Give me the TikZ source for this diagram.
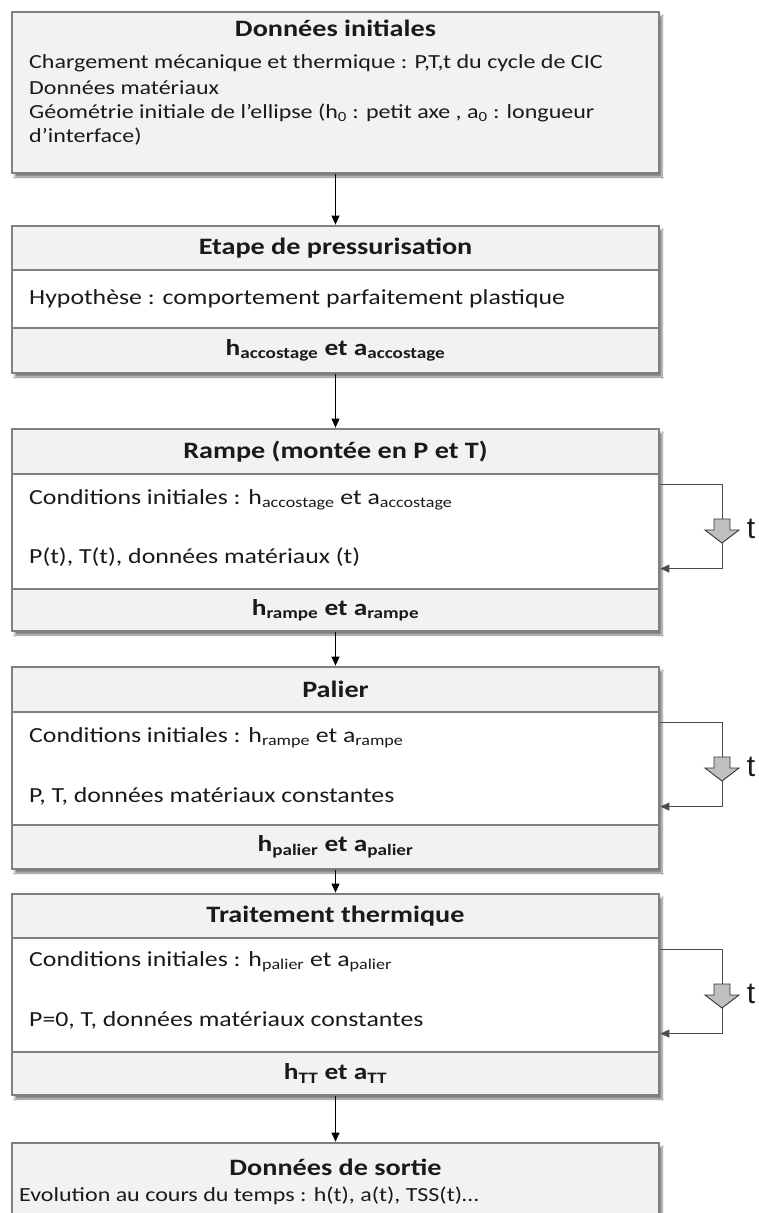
\documentclass[tikz,border=0pt]{standalone}
\usepackage{fontspec}
\setmainfont{Carlito}[FakeStretch=1.2]
\newfontfamily\tfont{Liberation Sans}
\usetikzlibrary{shadows.blur,arrows.meta}
\definecolor{boxgray}{HTML}{F2F2F2}
\definecolor{edgegray}{HTML}{808080}
\definecolor{arrowgray}{HTML}{BFBFBF}
\definecolor{txt}{HTML}{1A1A1A}
\tikzset{
  outerbox/.style={draw=edgegray, line width=2.8pt, fill=boxgray, minimum width=647pt, inner sep=0pt,
    blur shadow={shadow xshift=3pt, shadow yshift=-4pt, shadow blur steps=6, shadow opacity=50}},
  sect/.style={draw=edgegray, line width=2.8pt, minimum width=647pt, inner sep=0pt},
  secthead/.style={sect, fill=boxgray},
  sectbody/.style={sect, fill=white},
  boxtitle/.style={font=\fontsize{23.5}{27}\selectfont\bfseries, text=txt, inner sep=0pt},
  resulttext/.style={font=\fontsize{22.8}{26}\selectfont\bfseries, text=txt, inner sep=0pt},
  introtext/.style={font=\fontsize{20}{23}\selectfont, anchor=west, inner sep=0pt, text=txt},
  bodytext/.style={font=\fontsize{21.5}{25}\selectfont, anchor=west, inner sep=0pt, text=txt},
  conn/.style={-{Triangle[length=9pt,width=8pt]}, line width=0.9pt, draw=black},
  loopthin/.style={line width=0.9pt, draw=black!70},
  loopline/.style={-{Triangle[length=9pt,width=8pt]}, line width=0.9pt, draw=black!70},
  blockarrow/.style={fill=arrowgray, draw=black!80, line width=0.9pt, line join=miter},
  tlabel/.style={font=\tfont\fontsize{30}{34}\selectfont, text=txt, inner sep=0pt},
}
\begin{document}
\begin{tikzpicture}[x=1pt,y=-1pt]
\useasboundingbox (0,0) rectangle (759,1213);
\clip (0,0) rectangle (759,1213);
\fill[white] (0,0) rectangle (759,1213);

% ---------- Box 1
\node[outerbox, minimum height=161pt] (b1) at (335.5,92.5) {};
\node[boxtitle] (b1t) at (335.5,28) {Données initiales};
\node[introtext] (b1a) at (29,63) {Chargement mécanique et thermique : P,T,t du cycle de CIC};
\node[introtext] (b1b) at (29,88) {Données matériaux};
\node[introtext] (b1c) at (29,113) {Géométrie initiale de l’ellipse (h\textsubscript{0} : petit axe , a\textsubscript{0} : longueur};
\node[introtext] (b1d) at (29,137) {d’interface)};

% ---------- Box 2
\node[outerbox, minimum height=147pt] (b2) at (335.5,299.5) {};
\node[secthead, minimum height=44pt] (b2h) at (335.5,248) {};
\node[sectbody, minimum height=58pt] (b2m) at (335.5,299) {};
\node[secthead, minimum height=45pt] (b2f) at (335.5,350.5) {};
\node[boxtitle] (b2t) at (b2h) {Etape de pressurisation};
\node[bodytext] (b2a) at (29,299) {Hypothèse : comportement parfaitement plastique};
\node[resulttext] (b2r) at (b2f) {h\textsubscript{accostage} et a\textsubscript{accostage}};

% ---------- Box 3
\node[outerbox, minimum height=202pt] (b3) at (335.5,530) {};
\node[secthead, minimum height=45pt] (b3h) at (335.5,451.5) {};
\node[sectbody, minimum height=115pt] (b3m) at (335.5,531.5) {};
\node[secthead, minimum height=42pt] (b3f) at (335.5,610) {};
\node[boxtitle] (b3t) at (b3h) {Rampe (montée en P et T)};
\node[bodytext] (b3a) at (29,500) {Conditions initiales : h\textsubscript{accostage} et a\textsubscript{accostage}};
\node[bodytext] (b3b) at (29,557) {P(t), T(t), données matériaux (t)};
\node[resulttext] (b3r) at (b3f) {h\textsubscript{rampe} et a\textsubscript{rampe}};

% ---------- Box 4
\node[outerbox, minimum height=202pt] (b4) at (335.5,768) {};
\node[secthead, minimum height=45pt] (b4h) at (335.5,689.5) {};
\node[sectbody, minimum height=113pt] (b4m) at (335.5,768.5) {};
\node[secthead, minimum height=44pt] (b4f) at (335.5,847) {};
\node[boxtitle] (b4t) at (b4h) {Palier};
\node[bodytext] (b4a) at (29,738) {Conditions initiales : h\textsubscript{rampe} et a\textsubscript{rampe}};
\node[bodytext] (b4b) at (29,796) {P, T, données matériaux constantes};
\node[resulttext] (b4r) at (b4f) {h\textsubscript{palier} et a\textsubscript{palier}};

% ---------- Box 5
\node[outerbox, minimum height=201pt] (b5) at (335.5,994.5) {};
\node[secthead, minimum height=44pt] (b5h) at (335.5,916) {};
\node[sectbody, minimum height=114pt] (b5m) at (335.5,995) {};
\node[secthead, minimum height=43pt] (b5f) at (335.5,1073.5) {};
\node[boxtitle] (b5t) at (b5h) {Traitement thermique};
\node[bodytext] (b5a) at (29,962) {Conditions initiales : h\textsubscript{palier} et a\textsubscript{palier}};
\node[bodytext] (b5b) at (29,1020) {P=0, T, données matériaux constantes};
\node[resulttext] (b5r) at (b5f) {h\textsubscript{TT} et a\textsubscript{TT}};

% ---------- Box 6
\node[outerbox, minimum height=117pt] (b6) at (335.5,1201.5) {};
\node[boxtitle] (b6t) at (335.5,1167) {Données de sortie};
\node[introtext] (b6a) at (19,1196) {Evolution au cours du temps : h(t), a(t), TSS(t)…};

% ---------- Connectors between boxes
\draw[conn] (b1) -- (b2);
\draw[conn] (b2) -- (b3);
\draw[conn] (b3) -- (b4);
\draw[conn] (b4) -- (b5);
\draw[conn] (b5) -- (b6);

% ---------- Time loops
\foreach \b/\T in {3/429, 4/667, 5/894}{
  \coordinate (k\b top) at (722,\T+90);
  \coordinate (k\b tip) at (722,\T+114);
  \draw[loopthin] ([yshift=-57pt]b\b.north east) -| (k\b top);
  \draw[blockarrow] (714,\T+90) -- (730,\T+90) -- (730,\T+101) -- (739,\T+101)
     -- (k\b tip) -- (705,\T+101) -- (714,\T+101) -- cycle;
  \draw[loopline] (k\b tip) |- ([yshift=-141pt]b\b.north east);
  \node[tlabel] (t\b) at (751,\T+100) {t};
}
\end{tikzpicture}
\end{document}
